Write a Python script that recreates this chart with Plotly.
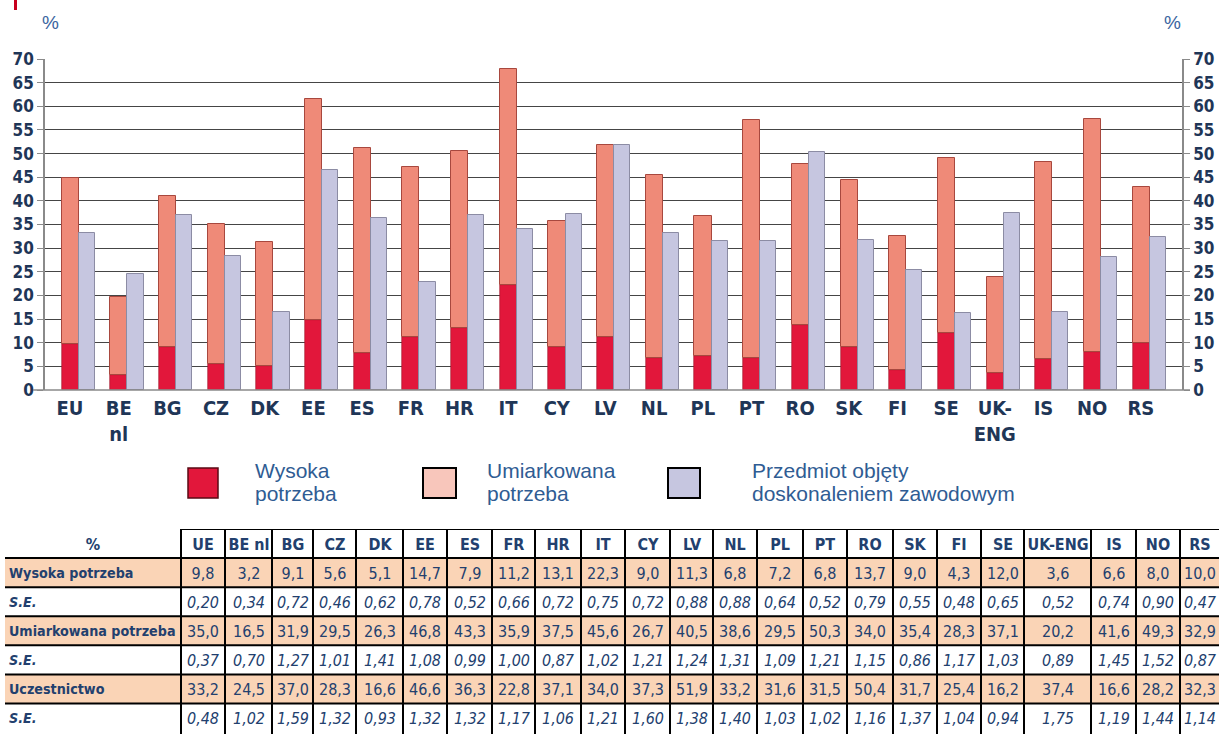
import plotly.graph_objects as go

countries = ["EU", "BE<br>nl", "BG", "CZ", "DK", "EE", "ES", "FR", "HR", "IT", "CY", "LV",
             "NL", "PL", "PT", "RO", "SK", "FI", "SE", "UK-<br>ENG", "IS", "NO", "RS"]
table_cols = ["UE", "BE nl", "BG", "CZ", "DK", "EE", "ES", "FR", "HR", "IT", "CY", "LV",
              "NL", "PL", "PT", "RO", "SK", "FI", "SE", "UK-ENG", "IS", "NO", "RS"]

wysoka = [9.8, 3.2, 9.1, 5.6, 5.1, 14.7, 7.9, 11.2, 13.1, 22.3, 9.0, 11.3, 6.8, 7.2, 6.8, 13.7,
          9.0, 4.3, 12.0, 3.6, 6.6, 8.0, 10.0]
wysoka_se = [0.20, 0.34, 0.72, 0.46, 0.62, 0.78, 0.52, 0.66, 0.72, 0.75, 0.72, 0.88, 0.88, 0.64,
             0.52, 0.79, 0.55, 0.48, 0.65, 0.52, 0.74, 0.90, 0.47]
umiark = [35.0, 16.5, 31.9, 29.5, 26.3, 46.8, 43.3, 35.9, 37.5, 45.6, 26.7, 40.5, 38.6, 29.5,
          50.3, 34.0, 35.4, 28.3, 37.1, 20.2, 41.6, 49.3, 32.9]
umiark_se = [0.37, 0.70, 1.27, 1.01, 1.41, 1.08, 0.99, 1.00, 0.87, 1.02, 1.21, 1.24, 1.31, 1.09,
             1.21, 1.15, 0.86, 1.17, 1.03, 0.89, 1.45, 1.52, 0.87]
ucz = [33.2, 24.5, 37.0, 28.3, 16.6, 46.6, 36.3, 22.8, 37.1, 34.0, 37.3, 51.9, 33.2, 31.6, 31.5,
       50.4, 31.7, 25.4, 16.2, 37.4, 16.6, 28.2, 32.3]
ucz_se = [0.48, 1.02, 1.59, 1.32, 0.93, 1.32, 1.32, 1.17, 1.06, 1.21, 1.60, 1.38, 1.40, 1.03,
          1.02, 1.16, 1.37, 1.04, 0.94, 1.75, 1.19, 1.44, 1.14]

row_labels = ["Wysoka potrzeba", "S.E.", "Umiarkowana potrzeba", "S.E.", "Uczestnictwo", "S.E."]
yticks = list(range(0, 75, 5))

# ---- layout constants ----
W, H = 1219, 734
def px(x): return x / W
def py(y): return 1 - y / H

NARROW = "Liberation Sans Narrow, Arial Narrow, DejaVu Sans Condensed, sans-serif"
SANS = "Liberation Sans, Arial, sans-serif"
NAVY = "#1f3657"
TXT = "#22406e"
BLUE = "#2f5c93"
RED = "#e2173b"
SALMON = "#ef8a78"
LAV = "#c6c6e0"
PEACH = "#fad4b6"
# table column edges (pixels)
COL_EDGES = [5, 181, 225, 272, 313, 356, 403, 447, 492, 535, 581, 625, 670, 713, 757,
             803, 847, 893, 937, 981, 1024, 1091, 1136, 1180, 1219]

xs = list(range(len(countries)))

fig = go.Figure()
fig.add_bar(x=xs, y=wysoka, offset=-0.17, width=0.35,
            marker=dict(color=RED, line=dict(color="#9a1326", width=0.6)),
            name="Wysoka potrzeba", showlegend=False, hoverinfo="skip")
fig.add_bar(x=xs, y=umiark, base=wysoka, offset=-0.17, width=0.35,
            marker=dict(color=SALMON, line=dict(color="#a8483e", width=1)),
            name="Umiarkowana potrzeba", showlegend=False, hoverinfo="skip")
fig.add_bar(x=xs, y=ucz, offset=0.18, width=0.33, yaxis="y2",
            marker=dict(color=LAV, line=dict(color="#8c8ca4", width=1)),
            name="Przedmiot objęty doskonaleniem zawodowym", showlegend=False, hoverinfo="skip")

# ---- table as a heatmap on its own axes ----
def f1(v): return f"{v:.1f}".replace(".", ",")
def f2(v): return f"<i>{v:.2f}</i>".replace(".", ",")

series_rows = [(wysoka, f1), (wysoka_se, f2), (umiark, f1), (umiark_se, f2), (ucz, f1), (ucz_se, f2)]
text = [["<b>%</b>"] + ["<b>" + c + "</b>" for c in table_cols]]
z = [[0] * (len(table_cols) + 1)]
for r, (vals, fmt) in enumerate(series_rows):
    text.append([""] + [fmt(v) for v in vals])
    z.append([1 if r % 2 == 0 else 0] * (len(table_cols) + 1))

nrows = len(text)
fig.add_trace(go.Heatmap(
    z=z, x=COL_EDGES, y=list(range(nrows + 1)), text=text, texttemplate="%{text}",
    textfont=dict(family=NARROW, size=16, color=TXT),
    colorscale=[[0, "white"], [1, PEACH]], zmin=0, zmax=1, showscale=False,
    xaxis="x3", yaxis="y3", hoverinfo="skip"))

for r, lab in enumerate(row_labels):
    t = "<b><i>S.E.</i></b>" if lab == "S.E." else "<b>" + lab + "</b>"
    fig.add_annotation(x=7, y=r + 1.5, xref="x3", yref="y3", text=t, showarrow=False,
                       xanchor="left", yanchor="middle",
                       font=dict(family=NARROW, size=14.2, color=TXT))

# table borders
for e in COL_EDGES[1:-1]:
    fig.add_shape(type="line", xref="x3", yref="y3", x0=e, x1=e, y0=0, y1=nrows + 0.2,
                  line=dict(color="black", width=2))
fig.add_shape(type="line", xref="x3", yref="y3", x0=COL_EDGES[1], x1=W, y0=0, y1=0,
              line=dict(color="black", width=2))
for r in range(1, nrows):
    fig.add_shape(type="line", xref="x3", yref="y3", x0=COL_EDGES[0], x1=W, y0=r, y1=r,
                  line=dict(color="black", width=2))

axis_font = dict(family=NARROW, size=17, color=NAVY)
fig.update_layout(
    width=W, height=H, margin=dict(l=0, r=0, t=0, b=0, pad=0, autoexpand=False),
    paper_bgcolor="white", plot_bgcolor="white",
    barmode="overlay", bargap=0,
    xaxis=dict(domain=[px(45), px(1182)], range=[-0.514, 22.846], automargin=False,
               tickvals=xs, ticktext=["<b>" + c + "</b>" for c in countries],
               tickfont=dict(family=NARROW, size=20, color=NAVY), ticklabelstandoff=4,
               showgrid=False, zeroline=False, showline=False, ticks=""),
    yaxis=dict(domain=[py(390), py(59)], range=[0, 70], tickvals=yticks, automargin=False,
               ticktext=["<b>%d</b>" % t for t in yticks], tickfont=axis_font,
               showgrid=True, gridcolor="#454545", gridwidth=1, zeroline=False,
               showline=True, linecolor="#8a8a8a", linewidth=1.5,
               ticks="outside", ticklen=6, tickcolor="#8a8a8a"),
    yaxis2=dict(domain=[py(390), py(59)], range=[0, 70], overlaying="y", side="right",
                anchor="x", tickvals=yticks, ticktext=["<b>%d</b>" % t for t in yticks],
                automargin=False,
                tickfont=axis_font, showgrid=False, zeroline=False,
                showline=True, linecolor="#8a8a8a", linewidth=1.5,
                ticks="outside", ticklen=6, tickcolor="#8a8a8a"),
    xaxis3=dict(domain=[0, 1], range=[0, W], anchor="y3", visible=False, automargin=False),
    yaxis3=dict(domain=[0, py(529)], range=[nrows + 0.05, 0], anchor="x3", visible=False,
                automargin=False),
)

# bottom baseline
fig.add_shape(type="line", xref="paper", yref="paper", x0=px(33), x1=px(1190), y0=py(390), y1=py(390),
              line=dict(color="#8a8a8a", width=1.5))

# red mark top left
fig.add_shape(type="rect", xref="paper", yref="paper", x0=px(14), x1=px(17), y0=py(0), y1=py(10),
              fillcolor="#c8001e", line=dict(width=0))

for xx in (50, 1172):
    fig.add_annotation(x=px(xx), y=py(22), xref="paper", yref="paper", text="%", showarrow=False,
                       xanchor="center", yanchor="middle",
                       font=dict(family=SANS, size=19, color="#3b64a0"))

# legend
legend = [
    (188, 218, RED, "#5a0a14", 1.5, 253, ["Wysoka", "potrzeba"]),
    (423, 456, "#f8c6bb", "black", 2, 485, ["Umiarkowana", "potrzeba"]),
    (668, 700, "#c6c6e0", "black", 2, 750, ["Przedmiot objęty", "doskonaleniem zawodowym"]),
]
for x0, x1, fc, lc, lw, tx, lines in legend:
    fig.add_shape(type="rect", xref="paper", yref="paper", x0=px(x0), x1=px(x1), y0=py(498), y1=py(468),
                  fillcolor=fc, line=dict(color=lc, width=lw))
    for k, ln in enumerate(lines):
        fig.add_annotation(x=px(tx), y=py(470 + 24 * k), xref="paper", yref="paper", text=ln,
                           showarrow=False, xanchor="left", yanchor="middle", align="left",
                           font=dict(family=SANS, size=21, color=BLUE))

fig.write_html("out.html", config={"displayModeBar": False},
               post_script="document.body.style.margin='0';document.body.style.overflow='hidden';")
